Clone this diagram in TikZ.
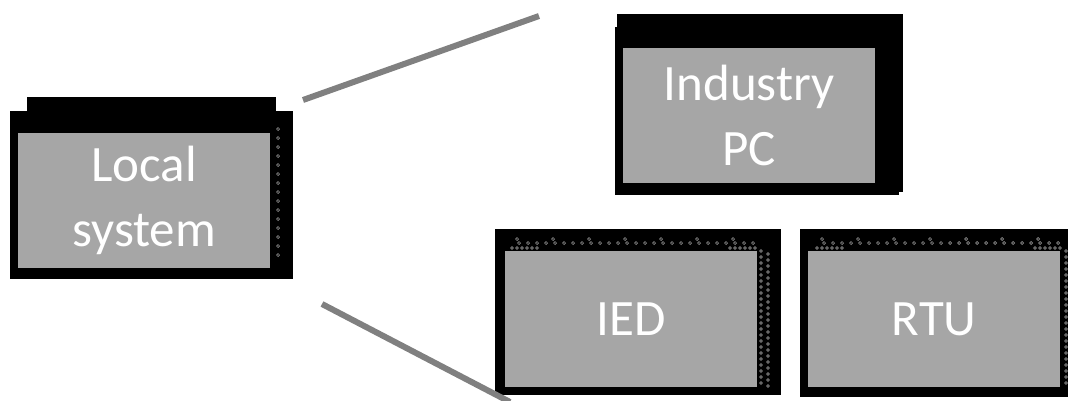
\documentclass[tikz,border=0pt]{standalone}
\usepackage{fontspec}
\newfontfamily\boxfont{Carlito}
\definecolor{panelgray}{HTML}{A6A6A6}
\definecolor{linkgray}{HTML}{808080}
\definecolor{dotgray}{HTML}{8C8C8C}

\begin{document}
\begin{tikzpicture}[x=1pt,y=-1pt,
        frame/.style={fill=black, inner sep=0, anchor=north west},
        panel/.style={fill=panelgray, text=white, inner sep=0, anchor=north west,
            align=center, font=\boxfont\fontsize{51}{65}\selectfont},
        link/.style={draw=linkgray, line width=6pt},
        dotmark/.style={draw=dotgray, line width=0.7pt}]
        \useasboundingbox (0,0) rectangle (1068,400);

        % local system
        \node[frame, minimum width=249, minimum height=16] (local-tab) at (27,97) {};
        \node[frame, minimum width=283, minimum height=168] (local-frame) at (10,111) {};
        \node[panel, minimum width=252, minimum height=135] (local) at (18,133) {Local\\system};
        \foreach \y in {129,138,...,263}
            \draw[dotmark] (278,\y) circle (1.5);

        % industry pc
        \node[frame, minimum width=286, minimum height=178] (pc-frame) at (617,14) {};
        \node[frame, minimum width=284, minimum height=168] (pc-base) at (615,27) {};
        \node[panel, minimum width=252, minimum height=135] (pc) at (623,48) {Industry\\PC};

        % ied and rtu
        \node[frame, minimum width=286, minimum height=166] (ied-frame) at (495,229) {};
        \node[frame, minimum width=268, minimum height=168] (rtu-frame) at (800,229) {};
        \foreach \x in {0,305} {
            \foreach \i in {0,...,26}
                \draw[dotmark] (519+\x+9*\i,243) circle (1.5);
            \foreach \i in {0,...,6}
                \draw[dotmark] (517+\x+36*\i,239) circle (1.5);
            \foreach \i in {0,...,5} {
                \draw[dotmark] (512+\x+5*\i,248) circle (1.3);
                \draw[dotmark] (730+\x+5*\i,248) circle (1.3);
            }
            \foreach \i in {0,...,22} {
                \draw[dotmark] (761+\x,251+6*\i) circle (1.4);
                \draw[dotmark] (768+\x,254+6*\i) circle (1.4);
            }
        }
        \node[panel, minimum width=252, minimum height=136] (ied) at (505,251) {IED};
        \node[panel, minimum width=252, minimum height=136] (rtu) at (808,251) {RTU};

        % links
        \coordinate (up-a) at (303,100);
        \coordinate (up-b) at (539,16);
        \coordinate (down-a) at (322,304);
        \coordinate (down-b) at (510,402);
        \draw[link] (up-a) -- (up-b);
        \draw[link] (down-a) -- (down-b);
\end{tikzpicture}
\end{document}
